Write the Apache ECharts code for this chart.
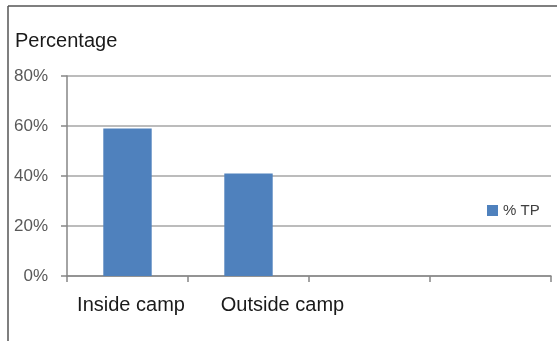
<!DOCTYPE html>
<html>
<head>
<meta charset="utf-8">
<script src="https://cdn.jsdelivr.net/npm/echarts@6/dist/echarts.min.js"></script>
<style>
html,body{margin:0;padding:0;background:#fff;}
#chart{width:557px;height:341px;}
</style>
</head>
<body>
<div id="chart"></div>
<script>
const categories = ['Inside camp', 'Outside camp', '', ''];
const seriesName = '% TP';
const values = [59, 41, null, null];
const yTicks = [0, 20, 40, 60, 80];

const FONT = '"Liberation Sans", Arial, sans-serif';
const chart = echarts.init(document.getElementById('chart'));
chart.setOption({
  animation: false,
  graphic: [
    {type: 'line', shape: {x1: 8, y1: 6, x2: 8, y2: 341}, style: {stroke: '#555', lineWidth: 1.5}},
    {type: 'line', shape: {x1: 8, y1: 6, x2: 557, y2: 6}, style: {stroke: '#555', lineWidth: 1.5}},
    {type: 'text', left: 15, top: 31, style: {text: 'Percentage', font: '20px "Liberation Sans", Arial, sans-serif', fill: '#1a1a1a'}}
  ],
  grid: {left: 67, right: 6, top: 76, bottom: 65},
  legend: {
    data: [seriesName], left: 487, top: 203, orient: 'vertical', padding: 0,
    itemWidth: 11, itemHeight: 11, icon: 'rect',
    textStyle: {fontFamily: FONT, fontSize: 15, color: '#404040'}
  },
  xAxis: {
    type: 'category', data: categories,
    axisLine: {lineStyle: {color: '#868686', width: 1.5}},
    axisTick: {show: true, length: 6, lineStyle: {color: '#868686', width: 1.5}},
    axisLabel: {
      interval: 0, margin: 19,
      fontFamily: FONT, fontSize: 20, color: '#1a1a1a',
      formatter: function (v, i) { return i === 0 ? '{a|' + v + '}' : (i === 1 ? '{b|' + v + '}' : v); },
      rich: {
        a: {padding: [0, 0, 0, 7], fontFamily: FONT, fontSize: 20, color: '#1a1a1a'},
        b: {padding: [0, 0, 0, 68], fontFamily: FONT, fontSize: 20, color: '#1a1a1a'}
      }
    }
  },
  yAxis: {
    type: 'value', min: yTicks[0], max: yTicks[yTicks.length - 1], interval: 20,
    axisLine: {show: true, lineStyle: {color: '#868686', width: 1.5}},
    axisTick: {show: true, length: 6, lineStyle: {color: '#868686', width: 1.5}},
    splitLine: {lineStyle: {color: '#a6a6a6', width: 1.5}},
    axisLabel: {
      formatter: '{value}%', margin: 19,
      fontFamily: FONT, fontSize: 17, color: '#595959'
    }
  },
  series: [{
    name: seriesName, type: 'bar', data: values, barWidth: '40%',
    itemStyle: {color: '#4f81bd'}
  }]
});
</script>
</body>
</html>
